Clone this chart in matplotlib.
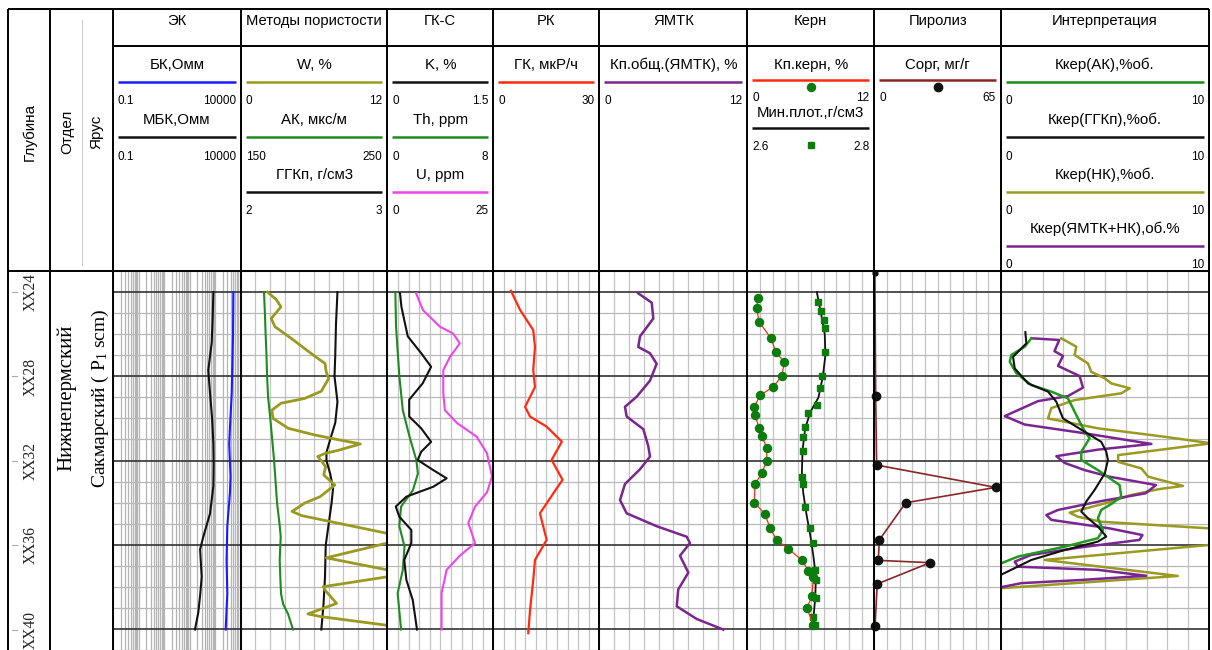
# Well log panel: EK, porosity methods, spectral GR, GR, NMR, core, pyrolysis and interpretation tracks
import numpy as np
import matplotlib.pyplot as plt
from matplotlib.ticker import LogLocator, FixedLocator

plt.rcParams['font.family'] = ['Liberation Sans', 'DejaVu Sans']
plt.rcParams['mathtext.fontset'] = 'custom'
plt.rcParams['mathtext.rm'] = 'Liberation Serif'
SERIF = ['Liberation Serif', 'DejaVu Serif']

# ---------------- data (depth, m; XX prefix hidden) ----------------
depth_labels = [24, 28, 32, 36, 40]

ek_mbk_depth = [24.0, 25.2, 26.4, 27.7, 28.8, 30.0, 31.2, 32.2, 33.2, 34.5, 35.6, 36.2, 37.5, 38.4, 39.2, 40.0]
ek_mbk = [850, 800, 733, 537, 630, 760, 850, 870, 850, 630, 343, 257, 297, 257, 218, 162]
ek_bk_depth = [24.0, 26.0, 28.8, 30.4, 31.2, 32.75, 33.5, 35.1, 36.7, 38.3, 40.0]
ek_bk = [5150, 5000, 4450, 3800, 3550, 4000, 3800, 2990, 2800, 2990, 2580]

w_depth = [24.0, 24.35, 24.7, 25.25, 25.64, 26.2, 26.75, 27.14, 27.38, 27.78, 28.1, 28.7, 29.04, 29.27,
           29.6, 29.99, 30.46, 30.78, 31.0, 31.2, 31.5, 31.65, 31.8, 31.96, 32.28, 32.67, 33.15, 33.7,
           34.0, 34.4, 34.6, 35.44, 35.65, 35.9, 36.6, 37.17, 37.33, 37.5, 37.97, 38.2, 38.76, 39.26,
           39.39, 39.8, 40.0]
w_val = [2.2, 2.9, 3.3, 2.5, 2.8, 4.15, 5.4, 6.3, 6.9, 7.0, 7.2, 6.6, 5.25, 3.3,
         2.55, 2.65, 3.9, 6.1, 8.0, 9.8, 8.0, 6.9, 6.3, 6.55, 6.95, 6.8, 7.7, 6.5,
         5.25, 4.2, 5.0, 12.0, 13.0, 12.0, 7.0, 12.0, 12.8, 12.0, 6.75, 7.0, 7.85, 5.5,
         6.6, 12.0, 12.3]
ak_depth = [24.0, 25.0, 26.0, 27.0, 28.0, 29.0, 30.0, 31.0, 32.0, 33.0, 34.0, 35.0, 35.6, 36.7,
            37.5, 38.3, 38.8, 39.26, 40.0]
ak_val = [165.9, 166.5, 167.0, 167.6, 168.0, 168.7, 170.2, 171.5, 172.8, 173.8, 174.8, 176.5, 177.3,
          176.6, 177.0, 177.5, 179.0, 182.3, 185.7]
ggk_depth = [24.0, 25.5, 27.0, 28.0, 29.2, 30.2, 31.0, 31.6, 32.0, 32.6, 33.3, 34.0, 35.0, 36.0,
             37.5, 38.8, 40.0]
ggk_val = [2.66, 2.65, 2.645, 2.64, 2.66, 2.645, 2.61, 2.585, 2.585, 2.61, 2.63, 2.62, 2.60, 2.58,
           2.575, 2.565, 2.55]

k_depth = [24.06, 24.7, 25.33, 26.1, 26.9, 27.54, 28.33, 29.1, 29.9, 30.46, 31.1, 31.57, 31.96, 32.44,
           32.83, 33.23, 33.7, 34.17, 34.65, 35.28, 35.9, 36.7, 37.65, 38.6, 40.0]
k_val = [0.18, 0.2, 0.24, 0.29, 0.48, 0.62, 0.50, 0.31, 0.31, 0.48, 0.62, 0.48, 0.43, 0.65,
         0.84, 0.65, 0.27, 0.12, 0.17, 0.34, 0.34, 0.24, 0.27, 0.36, 0.42]
th_depth = [24.06, 25.64, 28.0, 29.6, 30.86, 31.96, 32.6, 33.4, 34.17, 35.1, 36.07, 37.17, 38.28, 40.0]
th_val = [0.61, 0.66, 0.91, 1.17, 1.68, 2.19, 2.31, 1.93, 1.04, 0.91, 1.3, 1.17, 0.78, 1.04]
u_depth = [24.06, 24.85, 25.64, 25.96, 26.43, 27.07, 27.7, 28.8, 29.6, 30.2, 30.86, 31.64, 32.75, 33.5,
           34.17, 34.95, 35.9, 36.5, 37.17, 38.28, 40.0]
u_val = [6.8, 8.4, 12.4, 15.5, 17.1, 14.8, 13.2, 13.2, 13.6, 16.4, 21.1, 23.5, 24.7, 23.5,
         20.7, 19.1, 20.7, 17.1, 14.0, 12.8, 12.8]

gk_depth = [23.94, 24.85, 25.8, 26.6, 27.7, 28.5, 29.44, 29.9, 30.38, 31.09, 31.96, 32.9, 33.54, 34.49,
            35.75, 36.7, 37.65, 39.07, 40.17]
gk_val = [5.0, 7.6, 11.3, 11.8, 11.3, 11.8, 9.0, 10.4, 15.1, 19.4, 16.5, 19.6, 17.0, 13.2,
          15.1, 11.8, 11.3, 10.4, 9.9]

nmr_depth = [24.06, 24.5, 25.25, 26.1, 26.6, 26.9, 27.4, 28.2, 28.96, 29.44, 29.9, 30.5, 31.3, 31.8,
             32.4, 33.1, 33.86, 34.49, 35.1, 35.6, 35.9, 36.5, 37.3, 38.1, 38.9, 39.5, 40.0]
nmr_val = [3.16, 4.25, 4.38, 3.3, 3.16, 4.11, 4.65, 4.11, 3.03, 2.08, 2.22, 3.57, 3.97, 4.11,
           3.3, 2.08, 1.68, 2.22, 4.65, 7.09, 7.35, 6.54, 7.22, 6.4, 6.28, 7.9, 10.05]

kp_depth = [24.3, 24.77, 25.4, 26.2, 26.83, 27.33, 27.97, 28.49, 28.9, 29.44, 29.83, 30.43, 30.82, 31.38,
            32.0, 32.6, 33.1, 33.98, 34.53, 35.2, 35.75, 36.18, 36.7, 37.22, 37.49, 38.43, 38.98, 39.8]
kp_val = [0.99, 0.89, 1.11, 2.24, 2.69, 3.5, 3.26, 2.46, 1.2, 0.66, 0.73, 1.11, 1.36, 1.84,
          1.84, 1.36, 0.73, 0.66, 1.68, 2.15, 2.78, 3.88, 5.15, 5.78, 6.25, 6.1, 5.63, 6.25]
md_depth = [24.49, 24.9, 25.33, 25.72, 26.83, 27.97, 28.56, 29.36, 29.75, 30.38, 30.86, 31.52, 32.75,
            33.1, 34.17, 35.2, 35.88, 37.17, 37.65, 38.52, 39.39, 39.8]
md_val = [2.711, 2.716, 2.72, 2.723, 2.723, 2.718, 2.715, 2.71, 2.695, 2.691, 2.688, 2.687, 2.686,
          2.687, 2.691, 2.699, 2.704, 2.707, 2.708, 2.708, 2.704, 2.706]
md_trend_depth = [24.0, 25.0, 26.0, 27.0, 28.0, 29.0, 29.7, 30.5, 31.5, 32.5, 33.5, 34.5, 35.5, 36.5,
                  37.5, 38.5, 39.5, 39.85]
md_trend = [2.7095, 2.716, 2.722, 2.723, 2.719, 2.712, 2.699, 2.691, 2.687, 2.686, 2.688, 2.693,
            2.699, 2.704, 2.708, 2.707, 2.704, 2.702]

corg_depth = [23.1, 28.93, 32.2, 33.26, 33.99, 35.75, 36.72, 36.83, 37.84, 39.81]
corg_val = [0.3, 0.7, 1.2, 62.3, 16.1, 2.6, 2.05, 28.6, 1.5, 0.4]

kk_ak_depth = [26.19, 26.59, 26.98, 27.3, 27.85, 28.41, 28.72, 29.04, 29.83, 30.46, 30.93, 31.57,
               31.96, 32.44, 33.15, 33.7, 34.0, 34.33, 34.72, 35.28, 35.67, 36.07, 36.54, 36.86]
kk_ak = [1.46, 1.14, 0.5, 0.42, 0.74, 1.46, 2.42, 3.22, 3.62, 3.94, 4.26, 3.86,
         3.86, 4.66, 5.7, 5.78, 5.38, 4.82, 4.66, 4.9, 4.66, 3.06, 0.82, 0.01]
kk_ggk_depth = [25.9, 26.43, 27.07, 27.62, 28.33, 28.72, 29.2, 29.99, 30.62, 31.1, 31.57, 31.96,
                32.6, 33.38, 33.93, 34.41, 34.72, 35.12, 35.59, 35.83, 36.23, 36.7, 37.4]
kk_ggk = [1.17, 1.22, 0.58, 0.66, 1.3, 2.26, 2.66, 2.98, 4.02, 4.82, 5.06, 5.14,
          4.99, 4.5, 4.1, 3.86, 4.18, 4.66, 5.06, 4.66, 3.06, 1.46, 0.01]
kk_nk_depth = [26.19, 26.59, 26.98, 27.38, 27.78, 28.09, 28.33, 28.56, 28.8, 29.12, 29.5, 29.99,
               30.46, 30.86, 31.17, 31.41, 31.73, 32.05, 32.36, 32.75, 33.19, 33.35, 33.62, 33.98,
               34.46, 34.65, 34.89, 35.2, 35.6, 35.99, 36.7, 37.46, 38.04]
kk_nk = [2.9, 3.62, 3.54, 4.18, 4.34, 4.99, 5.3, 6.19, 5.78, 3.54, 2.42, 2.26,
         4.66, 7.87, 10.1, 8.19, 5.63, 5.63, 6.75, 7.07, 8.75, 7.55, 6.26, 5.14,
         3.3, 3.7, 4.82, 10.0, 12.5, 10.0, 2.1, 8.5, 0.01]
kk_nmr_depth = [26.19, 26.27, 26.8, 27.03, 27.5, 27.98, 28.53, 28.93, 29.17, 29.88, 30.28, 30.67,
                31.2, 31.47, 31.78, 32.1, 32.44, 32.75, 33.15, 33.54, 33.93, 34.33, 34.57, 34.8,
                35.2, 35.52, 35.75, 36.1, 36.46, 36.78, 37.02, 37.17, 37.45, 37.65, 37.8, 37.99]
kk_nmr = [1.46, 2.8, 2.57, 2.98, 2.74, 3.78, 3.94, 3.22, 1.78, 0.18, 1.14, 3.86,
          7.23, 4.66, 2.66, 3.06, 4.02, 5.2, 7.45, 6.95, 4.71, 2.74, 2.18, 2.42,
          5.2, 6.8, 6.66, 3.86, 1.46, 0.66, 0.82, 4.66, 6.98, 3.86, 0.98, 0.02]

# ---------------- layout (pixels) ----------------
W, H = 1212, 650
TOP, BOT = 271, 650
DMIN, DMAX = 23.0, 40.97
cols = [8, 50, 113, 240.7, 387.3, 493.3, 599.3, 747.3, 874.3, 1001, 1209]
titles = ['ЭК', 'Методы пористости', 'ГК-С', 'РК', 'ЯМТК', 'Керн', 'Пиролиз', 'Интерпретация']

blue, olive, green, black = '#1a1aff', '#9a9a22', '#1f8a1f', '#111111'
magenta, red, purple, brown = '#ee44ee', '#ff2a10', '#7a2590', '#8b2525'
mgreen = '#0c7c0c'

fig = plt.figure(figsize=(W / 100, H / 100), dpi=100)


def rect(x0, x1):
    return [x0 / W, 1 - BOT / H, (x1 - x0) / W, (BOT - TOP) / H]


def grid_axes(x0, x1, log=False):
    ax = fig.add_axes(rect(x0, x1))
    if log:
        ax.set_xscale('log')
        ax.set_xlim(0.1, 1e4)
        ax.xaxis.set_major_locator(FixedLocator([0.1, 1, 10, 100, 1000, 1e4]))
        ax.xaxis.set_minor_locator(LogLocator(base=10, subs=np.arange(2, 10), numticks=30))
        vcol = '#b4b4b4'
    else:
        ax.set_xlim(0, 10)
        ax.set_xticks(range(11))
        vcol = '#c4c4c4'
    ax.set_ylim(DMAX, DMIN)
    ax.set_yticks(depth_labels)
    ax.set_yticks([d for d in range(23, 42) if d % 4 != 0], minor=True)
    ax.grid(axis='x', which='both', color=vcol, lw=0.9)
    ax.grid(axis='y', which='minor', color='#b8b8b8', lw=0.9)
    ax.grid(axis='y', which='major', color='#333333', lw=1.2)
    ax.tick_params(which='both', length=0, labelbottom=False, labelleft=False)
    for s in ax.spines.values():
        s.set_visible(False)
    return ax


def curve_axes(x0, x1, lo, hi, log=False):
    ax = fig.add_axes(rect(x0, x1), frameon=False)
    if log:
        ax.set_xscale('log')
    ax.set_xlim(lo, hi)
    ax.set_ylim(DMAX, DMIN)
    ax.set_axis_off()
    return ax


# grids
for i in range(2, 10):
    grid_axes(cols[i], cols[i + 1], log=(i == 2))

# depth column
axd = curve_axes(cols[0], cols[1], 0, 1)
for d in depth_labels:
    axd.text(0.53, d, 'XX%d' % d, rotation=90, ha='center', va='center',
             fontsize=11.2, family=SERIF, color='#222222')
    axd.plot([0.1, 0.22], [d, d], color='#aaaaaa', lw=0.8)

# ЭК
a = curve_axes(cols[2], cols[3], 0.1, 1e4, log=True)
a.plot(ek_mbk, ek_mbk_depth, color=black, lw=1.5)
a.plot(ek_bk, ek_bk_depth, color=blue, lw=1.5)

# Методы пористости
a = curve_axes(cols[3], cols[4], 150, 250)
a.plot(ak_val, ak_depth, color=green, lw=1.5)
a = curve_axes(cols[3], cols[4], 2, 3)
a.plot(ggk_val, ggk_depth, color=black, lw=1.5)
a = curve_axes(cols[3], cols[4], 0, 12)
a.plot(w_val, w_depth, color=olive, lw=2.0)

# ГК-С
a = curve_axes(cols[4], cols[5], 0, 8)
a.plot(th_val, th_depth, color=green, lw=1.5)
a = curve_axes(cols[4], cols[5], 0, 1.5)
a.plot(k_val, k_depth, color=black, lw=1.5)
a = curve_axes(cols[4], cols[5], 0, 25)
a.plot(u_val, u_depth, color=magenta, lw=1.5)

# РК
a = curve_axes(cols[5], cols[6], 0, 30)
a.plot(gk_val, gk_depth, color=red, lw=1.6)

# ЯМТК
a = curve_axes(cols[6], cols[7], 0, 12)
a.plot(nmr_val, nmr_depth, color=purple, lw=1.8)

# Керн
a = curve_axes(cols[7], cols[8], 2.6, 2.8)
a.plot(md_trend, md_trend_depth, color=black, lw=1.3)
a.plot(md_val, md_depth, ls='none', marker='s', ms=4.5, color=mgreen, clip_on=False)
a = curve_axes(cols[7], cols[8], 0, 12)
a.plot(kp_val, kp_depth, color=red, lw=0.9, marker='o', ms=5.8, mfc=mgreen, mec=mgreen, clip_on=False)

# Пиролиз
a = curve_axes(cols[8], cols[9], 0, 65)
a.plot(corg_val, corg_depth, color=brown, lw=1.2)
a.plot(corg_val[1:], corg_depth[1:], ls='none', marker='o', ms=6, color=black, clip_on=False)
a.plot(corg_val[:1], corg_depth[:1], ls='none', marker='o', ms=3.5, color=black, clip_on=False)

# Интерпретация
a = curve_axes(cols[9], cols[10], 0, 10)
a.plot(kk_nk, kk_nk_depth, color=olive, lw=1.8)
a.plot(kk_nmr, kk_nmr_depth, color=purple, lw=1.8)
a.plot(kk_ak, kk_ak_depth, color='#1f9a1f', lw=1.8)
a.plot(kk_ggk, kk_ggk_depth, color=black, lw=1.5)

# ---------------- header and borders ----------------
ax0 = fig.add_axes([0, 0, 1, 1], zorder=10)
ax0.set_xlim(0, W)
ax0.set_ylim(H, 0)
ax0.set_axis_off()

bc = dict(color='black', lw=1.4, solid_capstyle='butt')
for x in cols:
    ax0.plot([x, x], [9, H + 2], **bc)
ax0.plot([cols[0], cols[-1]], [9, 9], **bc)
ax0.plot([cols[2], cols[-1]], [46, 46], **bc)
ax0.plot([cols[0], cols[-1]], [TOP, TOP], **bc)
ax0.plot([82, 82], [20, 265], color='#cccccc', lw=0.8)

for t, x0, x1 in zip(titles, cols[2:-1], cols[3:]):
    ax0.text((x0 + x1) / 2, 21, t, ha='center', va='center', fontsize=10.6)

ax0.text(30, 132, 'Глубина', rotation=90, ha='center', va='center', fontsize=11)
ax0.text(67, 132, 'Отдел', rotation=90, ha='center', va='center', fontsize=11)
ax0.text(96, 132, 'Ярус', rotation=90, ha='center', va='center', fontsize=11)
ax0.text(67, 398, 'Нижнепермский', rotation=90, ha='center', va='center', fontsize=15, family=SERIF)
ax0.text(100, 398, r'Сакмарский ( $\mathrm{P_1}$ scm)', rotation=90, ha='center', va='center',
         fontsize=14, family=SERIF)

name_y = [65, 120, 175, 229]
line_y = [82, 137, 192, 246]
scale_y = [101, 157, 211, 265]
headers = {
    2: [('БК,Омм', blue, '0.1', '10000'), ('МБК,Омм', black, '0.1', '10000')],
    3: [('W, %', olive, '0', '12'), ('АК, мкс/м', green, '150', '250'), ('ГГКп, г/см3', black, '2', '3')],
    4: [('K, %', black, '0', '1.5'), ('Th, ppm', green, '0', '8'), ('U, ppm', magenta, '0', '25')],
    5: [('ГК, мкР/ч', red, '0', '30')],
    6: [('Кп.общ.(ЯМТК), %', purple, '0', '12')],
    9: [('Ккер(АК),%об.', green, '0', '10'), ('Ккер(ГГКп),%об.', black, '0', '10'),
        ('Ккер(НК),%об.', olive, '0', '10'), ('Ккер(ЯМТК+НК),об.%', purple, '0', '10')],
}


def header_row(x0, x1, name, color, lo, hi, yn, yl, ys):
    ax0.text((x0 + x1) / 2, yn, name, ha='center', va='center', fontsize=10.8)
    ax0.plot([x0 + 5, x1 - 5], [yl, yl], color=color, lw=1.8, solid_capstyle='butt')
    ax0.text(x0 + 5, ys, lo, ha='left', va='center', fontsize=8.5)
    ax0.text(x1 - 5, ys, hi, ha='right', va='center', fontsize=8.5)


for i, rows in headers.items():
    for j, (name, color, lo, hi) in enumerate(rows):
        header_row(cols[i], cols[i + 1], name, color, lo, hi, name_y[j], line_y[j], scale_y[j])

# Керн
x0, x1 = cols[7], cols[8]
xc = (x0 + x1) / 2
header_row(x0, x1, 'Кп.керн, %', red, '0', '12', 65, 80, 98)
ax0.plot([xc], [87], 'o', ms=5.8, color=mgreen)
header_row(x0, x1, 'Мин.плот.,г/см3', black, '2.6', '2.8', 113, 128, 147)
ax0.plot([xc], [145], 's', ms=4.5, color=mgreen)

# Пиролиз
x0, x1 = cols[8], cols[9]
header_row(x0, x1, 'Сорг, мг/г', brown, '0', '65', 65, 80, 98)
ax0.plot([(x0 + x1) / 2], [87], 'o', ms=6, color=black)

plt.savefig('out.png', dpi=100)
